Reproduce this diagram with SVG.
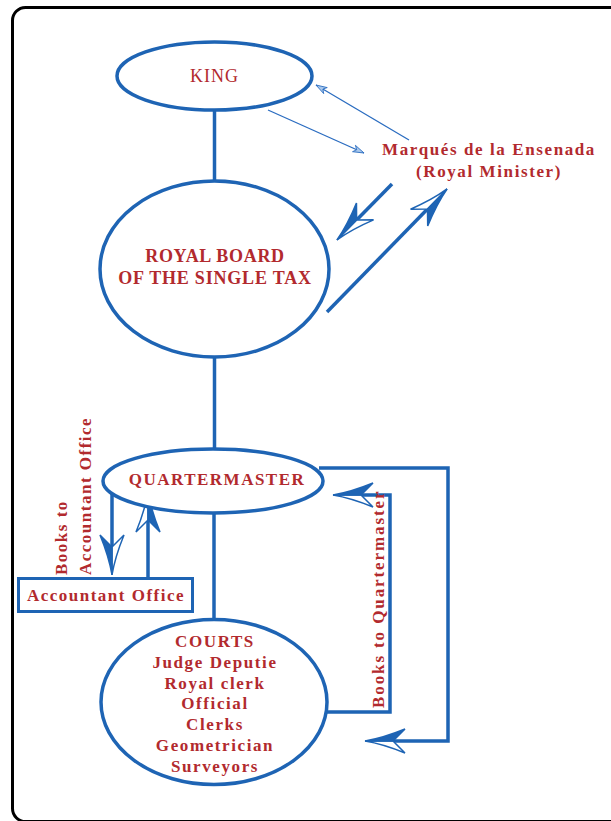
<svg xmlns="http://www.w3.org/2000/svg" width="611" height="821" viewBox="0 0 611 821">
<style>
.node{fill:#ffffff;stroke:#1e64b4;stroke-width:3.5}
.box{fill:#ffffff;stroke:#1e64b4;stroke-width:3}
.con{fill:none;stroke:#1e64b4;stroke-width:3.5}
.thin{fill:none;stroke:#2a6cc0;stroke-width:1.3}
.t{font-family:"Liberation Serif","Times New Roman",serif;font-weight:bold;fill:#b22a2e;font-size:17px;letter-spacing:1.6px;text-anchor:middle}
.tv{font-family:"Liberation Serif","Times New Roman",serif;font-weight:bold;fill:#b22a2e;font-size:17px;letter-spacing:1.6px}
</style>
<defs>
<marker id="dart" markerUnits="userSpaceOnUse" viewBox="-15 -15 46 30" markerWidth="46" markerHeight="30" refX="0" refY="0" orient="auto" overflow="visible">
<path d="M28,0 Q10,-3 -12,-12 L0,0 Z" fill="#ffffff" stroke="#1e64b4" stroke-width="1.5" stroke-linejoin="miter"/>
<path d="M28,0 Q10,3 -12,12 L0,0 Z" fill="#1e64b4" stroke="#1e64b4" stroke-width="1.5"/>
</marker>
<marker id="small" markerUnits="userSpaceOnUse" viewBox="-12 -5 14 10" markerWidth="14" markerHeight="10" refX="0" refY="0" orient="auto" overflow="visible">
<path d="M0,0 L-11,-3.5 L-8,0 L-11,3.5 Z" fill="#a9c8ec" stroke="#2a6cc0" stroke-width="0.8"/>
</marker>
</defs>
<rect x="12.5" y="7.5" width="630" height="814" rx="13" ry="13" fill="#ffffff" stroke="#000000" stroke-width="3"/>
<g id="connectors">
<line class="con" x1="214.5" y1="110" x2="214.5" y2="181"/>
<line class="con" x1="214.5" y1="357" x2="214.5" y2="449"/>
<line class="con" x1="214" y1="513" x2="214" y2="620"/>
<line class="thin" x1="409" y1="140" x2="316" y2="85" marker-end="url(#small)"/>
<line class="thin" x1="268" y1="110" x2="364" y2="153" marker-end="url(#small)"/>
<line class="con" x1="392" y1="184" x2="356.6" y2="220" marker-end="url(#dart)"/>
<line class="con" x1="327" y1="312" x2="427.5" y2="209" marker-end="url(#dart)"/>
<line class="con" x1="112" y1="492" x2="112" y2="547" marker-end="url(#dart)"/>
<line class="con" x1="148" y1="578" x2="148" y2="520" marker-end="url(#dart)"/>
<path class="con" d="M319,468 H448 V741 H393" marker-end="url(#dart)"/>
<path class="con" d="M324,712 H390 V495 H361" marker-end="url(#dart)"/>
</g>
<g id="king">
<ellipse class="node" cx="214.5" cy="76" rx="97.5" ry="34"/>
<text x="214.5" y="82" class="t" style="font-weight:normal;font-size:18px;letter-spacing:1px">KING</text>
</g>
<g id="royal-board">
<ellipse class="node" cx="214.5" cy="269" rx="114.5" ry="88"/>
<text x="215" y="262" class="t" style="font-size:18px;letter-spacing:0.7px">ROYAL BOARD</text>
<text x="215" y="284" class="t" style="font-size:18px;letter-spacing:0.8px">OF THE SINGLE TAX</text>
</g>
<g id="minister">
<text x="489" y="155" class="t">Marqués de la Ensenada</text>
<text x="489" y="177" class="t">(Royal Minister)</text>
</g>
<g id="quartermaster">
<ellipse class="node" cx="213" cy="481" rx="110" ry="32"/>
<text x="217" y="485" class="t" style="letter-spacing:1.5px">QUARTERMASTER</text>
</g>
<g id="accountant-office">
<rect class="box" x="18.5" y="578.5" width="174" height="33"/>
<text x="106" y="601" class="t" style="letter-spacing:1.5px">Accountant Office</text>
</g>
<g id="courts">
<ellipse class="node" cx="214" cy="702" rx="113" ry="82.5"/>
<text x="215" y="647" class="t">COURTS</text>
<text x="215" y="668" class="t">Judge Deputie</text>
<text x="215" y="689" class="t">Royal clerk</text>
<text x="215" y="709" class="t">Official</text>
<text x="215" y="730" class="t">Clerks</text>
<text x="215" y="751" class="t">Geometrician</text>
<text x="215" y="772" class="t">Surveyors</text>
</g>
<g id="labels">
<text class="tv" transform="translate(67,575) rotate(-90)" style="letter-spacing:1.5px">Books to</text>
<text class="tv" transform="translate(91,575) rotate(-90)" style="letter-spacing:1.5px">Accountant Office</text>
<text class="tv" transform="translate(384,708) rotate(-90)" style="letter-spacing:1.9px">Books to Quartermaster</text>
</g>
</svg>
